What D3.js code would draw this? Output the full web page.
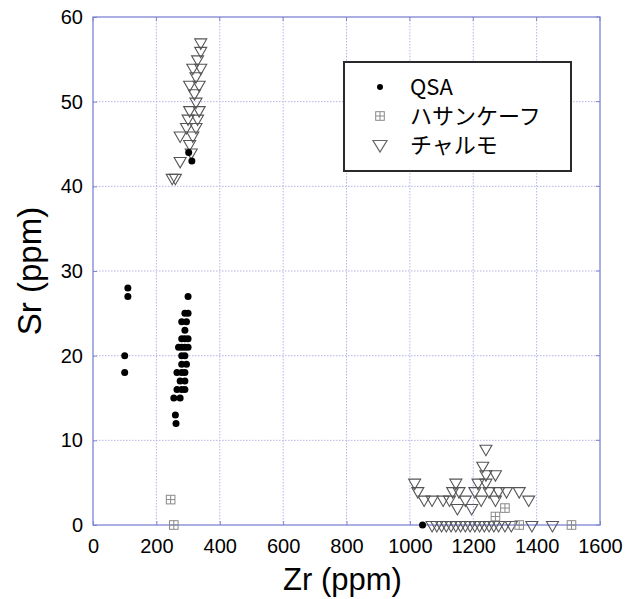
<!DOCTYPE html>
<html>
<head>
<meta charset="utf-8">
<script src="https://cdn.jsdelivr.net/npm/d3@7"></script>
<style>
  body { margin: 0; background: #fff; }
  .tick-label { font-family: "Liberation Sans", Arial, sans-serif; font-size: 20px; fill: #000; }
  .axis-title { font-family: "Liberation Sans", Arial, sans-serif; fill: #000; }
  .legend-text { font-family: "Noto Sans CJK JP", sans-serif; font-size: 22px; fill: #000; }
</style>
</head>
<body>
<div id="wrapper"></div>
<script>
// tick values
const xTicks = [0, 200, 400, 600, 800, 1000, 1200, 1400, 1600]
const yTicks = [0, 10, 20, 30, 40, 50, 60]

// series names (legend)
const seriesNames = ["QSA", "ハサンケーフ", "チャルモ"]

// QSA (black dots)
const qsaZr = [110, 110, 100, 100, 300, 290, 300, 280, 295, 290, 280, 290, 300,
  270, 280, 290, 300, 280, 290, 280, 295, 265, 280, 290, 275, 290, 265, 280, 290,
  255, 275, 260, 262, 312, 302, 1040]
const qsaSr = [28, 27, 20, 18, 27, 25, 25, 24, 24, 23, 22, 22, 22,
  21, 21, 21, 21, 20, 20, 19, 19, 18, 18, 18, 17, 17, 16, 16, 16,
  15, 15, 13, 12, 43, 44, 0]

// ハサンケーフ (crossed squares)
const hasZr = [245, 255, 1270, 1300, 1345, 1510]
const hasSr = [3, 0, 1, 2, 0, 0]

// チャルモ (open down triangles)
const chaZr = [340, 340, 330, 315, 340, 325, 305, 335, 320, 325, 305, 335, 300, 330,
  295, 325, 275, 315, 305, 310, 275, 250, 260,
  1240, 1230, 1240, 1270,
  1015, 1145, 1215, 1240,
  1025, 1135, 1155, 1205, 1250, 1280, 1305, 1345,
  1045, 1070, 1105, 1125, 1175, 1225, 1270, 1375,
  1150, 1195,
  1070, 1085, 1100, 1115, 1130, 1145, 1160, 1175, 1190, 1205, 1220, 1235, 1250,
  1265, 1280, 1300, 1320, 1385, 1450]
const chaSr = [57, 56, 55, 54, 54, 53, 52, 52, 51, 50, 49, 49, 48, 48,
  47, 47, 46, 46, 45, 44, 43, 41, 41,
  9, 7, 6, 6,
  5, 5, 5, 5,
  4, 4, 4, 4, 4, 4, 4, 4,
  3, 3, 3, 3, 3, 3, 3, 3,
  2, 2,
  0, 0, 0, 0, 0, 0, 0, 0, 0, 0, 0, 0, 0,
  0, 0, 0, 0, 0, 0]

const dimensions = {
  width: 626,
  height: 599,
  margin: { top: 17, right: 26, bottom: 74, left: 93 },
}
dimensions.boundedWidth = dimensions.width - dimensions.margin.left - dimensions.margin.right
dimensions.boundedHeight = dimensions.height - dimensions.margin.top - dimensions.margin.bottom

const frameColor = "#7f84d4"
const gridColor = "#b4b6e6"

const svg = d3.select("#wrapper").append("svg")
  .attr("width", dimensions.width)
  .attr("height", dimensions.height)

const bounds = svg.append("g")
  .attr("transform", `translate(${dimensions.margin.left},${dimensions.margin.top})`)

const xScale = d3.scaleLinear().domain([0, 1600]).range([0, dimensions.boundedWidth])
const yScale = d3.scaleLinear().domain([0, 60]).range([dimensions.boundedHeight, 0])

// dotted grid
bounds.append("g").selectAll("line").data(xTicks.slice(1, -1)).join("line")
  .attr("x1", d => xScale(d)).attr("x2", d => xScale(d))
  .attr("y1", 0).attr("y2", dimensions.boundedHeight)
  .attr("stroke", gridColor).attr("stroke-width", 1).attr("stroke-dasharray", "1.5,1.5")
bounds.append("g").selectAll("line").data(yTicks.slice(1, -1)).join("line")
  .attr("y1", d => yScale(d)).attr("y2", d => yScale(d))
  .attr("x1", 0).attr("x2", dimensions.boundedWidth)
  .attr("stroke", gridColor).attr("stroke-width", 1).attr("stroke-dasharray", "1.5,1.5")

// axes (labels only, frame drawn separately)
const xAxis = bounds.append("g")
  .attr("transform", `translate(0,${dimensions.boundedHeight})`)
  .call(d3.axisBottom(xScale).tickValues(xTicks).tickFormat(d3.format("d"))
    .tickSize(-4).tickPadding(14))
const yAxis = bounds.append("g")
  .call(d3.axisLeft(yScale).tickValues(yTicks).tickFormat(d3.format("d"))
    .tickSize(-4).tickPadding(10))
;[xAxis, yAxis].forEach(ax => {
  ax.select(".domain").remove()
  ax.selectAll(".tick line").attr("stroke", frameColor)
  ax.selectAll(".tick text").attr("class", "tick-label")
})
xAxis.attr("font-size", null).attr("font-family", null)
yAxis.attr("font-size", null).attr("font-family", null)

// inner ticks on top and right
bounds.append("g").selectAll("line").data(xTicks).join("line")
  .attr("x1", d => xScale(d)).attr("x2", d => xScale(d))
  .attr("y1", 0).attr("y2", 4).attr("stroke", frameColor)
bounds.append("g").selectAll("line").data(yTicks).join("line")
  .attr("y1", d => yScale(d)).attr("y2", d => yScale(d))
  .attr("x1", dimensions.boundedWidth).attr("x2", dimensions.boundedWidth - 4).attr("stroke", frameColor)

bounds.append("rect")
  .attr("width", dimensions.boundedWidth).attr("height", dimensions.boundedHeight)
  .attr("fill", "none").attr("stroke", frameColor).attr("stroke-width", 1.3)

// marker shapes
const triPath = "M-6,-3.5L6,-3.5L0,6.9Z"
const squareHalf = 4.3
function drawSquare(g) {
  g.append("rect").attr("x", -squareHalf).attr("y", -squareHalf)
    .attr("width", squareHalf * 2).attr("height", squareHalf * 2)
  g.append("path").attr("d", `M${-squareHalf},0H${squareHalf}M0,${-squareHalf}V${squareHalf}`)
}

const marks = bounds.append("g")

// triangles
marks.append("g").selectAll("path").data(d3.range(chaZr.length)).join("path")
  .attr("transform", i => `translate(${xScale(chaZr[i])},${yScale(chaSr[i])})`)
  .attr("d", triPath)
  .attr("fill", "none").attr("stroke", "#555").attr("stroke-width", 1.1)

// squares
marks.append("g").selectAll("g").data(d3.range(hasZr.length)).join("g")
  .attr("transform", i => `translate(${xScale(hasZr[i])},${yScale(hasSr[i])})`)
  .attr("fill", "none").attr("stroke", "#8a8a8a").attr("stroke-width", 1)
  .each(function () { drawSquare(d3.select(this)) })

// dots
marks.append("g").selectAll("circle").data(d3.range(qsaZr.length)).join("circle")
  .attr("cx", i => xScale(qsaZr[i])).attr("cy", i => yScale(qsaSr[i]))
  .attr("r", 3.5).attr("fill", "#000")

// axis titles
svg.append("text").attr("class", "axis-title")
  .attr("x", dimensions.margin.left + dimensions.boundedWidth / 2 - 4)
  .attr("y", 590)
  .attr("text-anchor", "middle").style("font-size", "31px")
  .text("Zr (ppm)")
svg.append("text").attr("class", "axis-title")
  .attr("transform", `translate(41,${dimensions.margin.top + dimensions.boundedHeight / 2}) rotate(-90)`)
  .attr("text-anchor", "middle").style("font-size", "33px")
  .text("Sr (ppm)")

// legend
const legend = svg.append("g").attr("transform", "translate(344,62)")
legend.append("rect").attr("width", 227).attr("height", 109)
  .attr("fill", "#fff").attr("stroke", "#2a2a2a").attr("stroke-width", 2)
const rowY = [25, 54, 83]
seriesNames.forEach((name, i) => {
  const row = legend.append("g").attr("transform", `translate(0,${rowY[i]})`)
  const sym = row.append("g").attr("transform", "translate(36,0)")
  if (i === 0) sym.append("circle").attr("r", 3).attr("fill", "#000")
  if (i === 1) {
    sym.attr("fill", "none").attr("stroke", "#8a8a8a").attr("stroke-width", 1)
    drawSquare(sym)
  }
  if (i === 2) sym.append("path").attr("d", "M-7,-4.5L7,-4.5L0,7Z")
    .attr("fill", "none").attr("stroke", "#666").attr("stroke-width", 1.2)
  row.append("text").attr("class", "legend-text")
    .attr("x", 66).attr("dy", "0.36em").text(name)
})
</script>
</body>
</html>
